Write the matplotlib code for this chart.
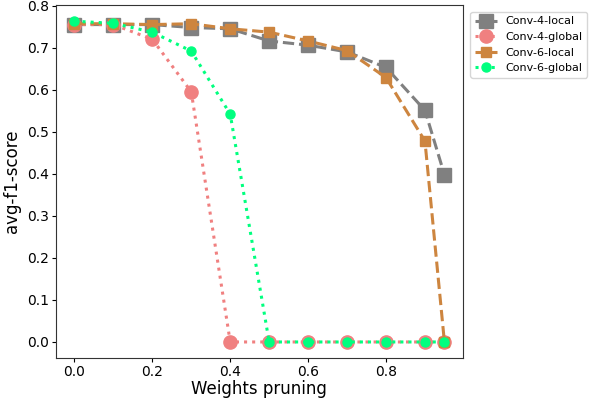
import matplotlib
matplotlib.use("Agg")
import matplotlib.pyplot as plt

# pruning ratios and scores
pruning = [0.0, 0.1, 0.2, 0.3, 0.4, 0.5, 0.6, 0.7, 0.8, 0.9, 0.95]
conv4_local = [0.755, 0.755, 0.755, 0.748, 0.745, 0.716, 0.706, 0.690, 0.653, 0.551, 0.398]
conv4_global = [0.755, 0.755, 0.720, 0.595, 0.0, 0.0, 0.0, 0.0, 0.0, 0.0, 0.0]
conv6_local = [0.757, 0.757, 0.755, 0.757, 0.745, 0.737, 0.716, 0.693, 0.629, 0.478, 0.0]
conv6_global = [0.763, 0.758, 0.737, 0.692, 0.542, 0.0, 0.0, 0.0, 0.0, 0.0, 0.0]

fig = plt.figure(figsize=(5.95, 3.98), dpi=100)
ax = fig.add_axes([0.094, 0.1005, 0.684, 0.8865])

ax.plot(pruning, conv4_local, color="grey", linestyle="--", linewidth=2.2,
        marker="s", markersize=9.5, label="Conv-4-local")
ax.plot(pruning, conv4_global, color="lightcoral", linestyle=":", linewidth=2.2,
        marker="o", markersize=9.5, label="Conv-4-global")
ax.plot(pruning, conv6_local, color="peru", linestyle="--", linewidth=2.2,
        marker="s", markersize=6.5, label="Conv-6-local")
ax.plot(pruning, conv6_global, color="springgreen", linestyle=":", linewidth=2.2,
        marker="o", markersize=6.5, label="Conv-6-global")

ax.set_xlabel("Weights pruning", fontsize=12, labelpad=1)
ax.set_ylabel("avg-f1-score", fontsize=12, labelpad=4)
ax.tick_params(labelsize=10, length=3, pad=2)
for s in ax.spines.values():
    s.set_color("#333333")

ax.legend(loc="upper left", bbox_to_anchor=(1.01, 0.99), fontsize=8,
          borderaxespad=0.3)

fig.savefig("out.png", dpi=100)
